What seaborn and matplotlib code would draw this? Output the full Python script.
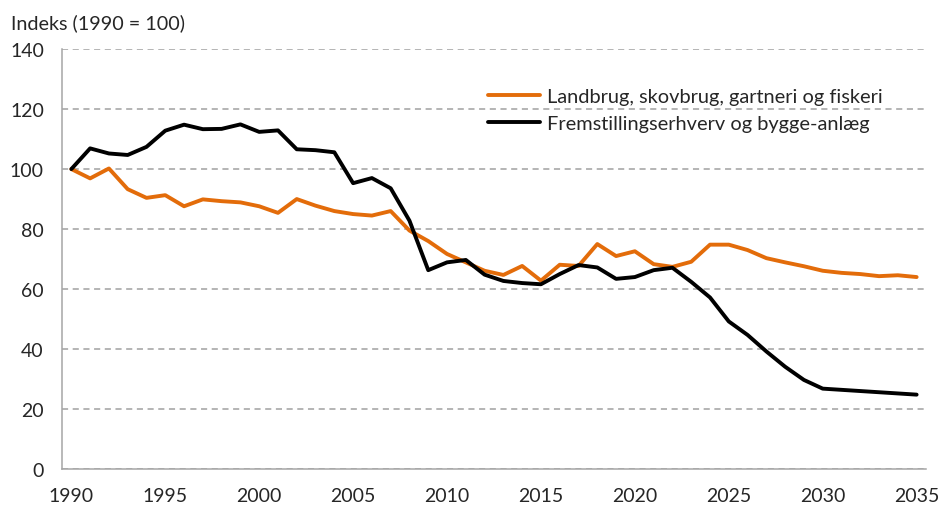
import numpy as np
import pandas as pd
import matplotlib
matplotlib.use("Agg")
import matplotlib.pyplot as plt
import seaborn as sns

# Data (index, 1990 = 100)
years = list(range(1990, 2036))

landbrug = [100.0, 96.9, 100.2, 93.3, 90.4, 91.3, 87.6, 89.9, 89.3, 88.9,
            87.6, 85.4, 90.0, 87.8, 86.0, 85.0, 84.5, 86.0, 79.5, 76.0,
            71.7, 68.9, 66.1, 64.7, 67.7, 62.8, 68.1, 67.7, 75.0, 71.0,
            72.6, 68.3, 67.4, 69.1, 74.8, 74.8, 73.0, 70.3, 68.9, 67.6,
            66.1, 65.4, 65.0, 64.3, 64.6, 64.0]

fremstilling = [100.0, 106.9, 105.2, 104.7, 107.4, 112.8, 114.8, 113.3, 113.4, 114.9,
                112.4, 112.9, 106.6, 106.3, 105.6, 95.3, 97.0, 93.6, 82.8, 66.3,
                68.9, 69.7, 64.8, 62.7, 62.0, 61.6, 65.0, 68.0, 67.2, 63.4,
                64.0, 66.3, 67.1, 62.4, 57.2, 49.2, 44.7, 39.2, 34.1, 29.7,
                26.8, 26.4, 26.0, 25.6, 25.2, 24.8]

series_names = ["Landbrug, skovbrug, gartneri og fiskeri",
                "Fremstillingserhverv og bygge-anlæg"]
colors = ["#E36C0A", "#000000"]

df = pd.DataFrame({
    "År": years * 2,
    "Indeks": landbrug + fremstilling,
    "Serie": [series_names[0]] * len(years) + [series_names[1]] * len(years),
})

sns.set_style("white")
plt.rcParams["font.family"] = ["Lato", "DejaVu Sans"]

fig = plt.figure(figsize=(9.43, 5.06), dpi=100)
ax = fig.add_axes([0.0657, 0.0711, 0.9163, 0.8299])

sns.lineplot(data=df, x="År", y="Indeks", hue="Serie", palette=colors,
             linewidth=2.8, ax=ax)

ax.set_xlim(1989.5, 2035.5)
ax.set_ylim(0, 140)
ax.set_yticks(np.arange(0, 141, 20))
ax.set_xticks(np.arange(1990, 2036, 5))
ax.set_xticks(np.arange(1989.5, 2036, 1), minor=True)

ax.grid(axis="y", color="#A0A0A0", linestyle=(0, (4, 3)), linewidth=1.1)
ax.set_axisbelow(True)

for side in ["top", "right"]:
    ax.spines[side].set_visible(False)
for side in ["left", "bottom"]:
    ax.spines[side].set_color("#A6A6A6")
    ax.spines[side].set_linewidth(1.1)

ax.tick_params(axis="x", which="major", length=0, pad=13, labelsize=14)
ax.tick_params(axis="x", which="minor", length=5, color="#A6A6A6", direction="out")
ax.tick_params(axis="y", length=5, color="#A6A6A6", direction="out", pad=8, labelsize=14)

ax.set_xlabel("")
ax.set_ylabel("")
fig.text(0.012, 0.955, "Indeks (1990 = 100)", fontsize=14.2, va="center", ha="left")

ax.legend(loc="upper left", bbox_to_anchor=(0.472, 0.95), frameon=False,
          fontsize=14.4, handlelength=2.6, handletextpad=0.35, labelspacing=0.5)

fig.savefig("out.png", dpi=100)
